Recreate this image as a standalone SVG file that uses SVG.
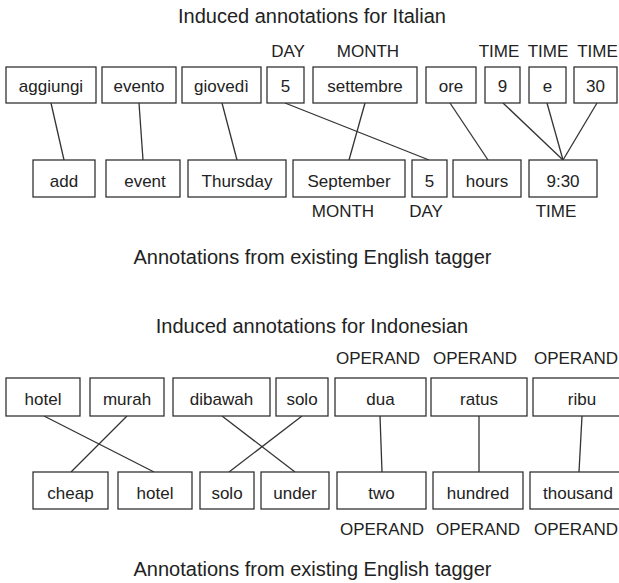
<svg xmlns="http://www.w3.org/2000/svg" width="619" height="583" viewBox="0 0 619 583">
<style>
.b{fill:#fff;stroke:#333;stroke-width:1.3}
.t{font-family:"Liberation Sans",Arial,sans-serif;font-size:17px;fill:#222;text-anchor:middle}
.h{font-family:"Liberation Sans",Arial,sans-serif;font-size:20px;fill:#222;text-anchor:middle}
.c line{stroke:#333;stroke-width:1.3}
</style>
<rect width="619" height="583" fill="#fff"/>
<text class="h" x="312" y="23">Induced annotations for Italian</text>
<text class="h" x="312.5" y="264">Annotations from existing English tagger</text>
<text class="h" x="312" y="333">Induced annotations for Indonesian</text>
<text class="h" x="312.5" y="576">Annotations from existing English tagger</text>
<g class="c" id="connectors">
<line x1="51" y1="103" x2="64" y2="160"/>
<line x1="139" y1="103" x2="143" y2="160"/>
<line x1="222" y1="103" x2="237" y2="160"/>
<line x1="285" y1="103" x2="429" y2="160"/>
<line x1="365" y1="103" x2="349" y2="160"/>
<line x1="450" y1="103" x2="488" y2="160"/>
<line x1="503" y1="103" x2="563" y2="160"/>
<line x1="547" y1="103" x2="563" y2="160"/>
<line x1="597" y1="103" x2="563" y2="160"/>
<line x1="44" y1="416" x2="154" y2="472"/>
<line x1="127" y1="416" x2="71" y2="472"/>
<line x1="222" y1="416" x2="295" y2="472"/>
<line x1="302" y1="416" x2="229" y2="472"/>
<line x1="380" y1="416" x2="382" y2="472"/>
<line x1="479" y1="416" x2="479" y2="472"/>
<line x1="582" y1="416" x2="579" y2="472"/>
</g>
<g id="it-aggiungi"><rect class="b" x="6" y="67" width="90" height="36"/><text class="t" x="51" y="92">aggiungi</text></g>
<g id="it-evento"><rect class="b" x="102" y="67" width="74" height="36"/><text class="t" x="139" y="92">evento</text></g>
<g id="it-giovedi"><rect class="b" x="182" y="67" width="79" height="36"/><text class="t" x="221.5" y="92">giovedì</text></g>
<g id="it-5"><rect class="b" x="267" y="67" width="37" height="36"/><text class="t" x="285.5" y="92">5</text><text class="t" x="288" y="57">DAY</text></g>
<g id="it-settembre"><rect class="b" x="313" y="67" width="104" height="36"/><text class="t" x="365" y="92">settembre</text><text class="t" x="368" y="57">MONTH</text></g>
<g id="it-ore"><rect class="b" x="426" y="67" width="50" height="36"/><text class="t" x="451" y="92">ore</text></g>
<g id="it-9"><rect class="b" x="485" y="67" width="35" height="36"/><text class="t" x="502.5" y="92">9</text><text class="t" x="499" y="57">TIME</text></g>
<g id="it-e"><rect class="b" x="529" y="67" width="37" height="36"/><text class="t" x="547.5" y="92">e</text><text class="t" x="548" y="57">TIME</text></g>
<g id="it-30"><rect class="b" x="574" y="67" width="43" height="36"/><text class="t" x="595.5" y="92">30</text><text class="t" x="597.5" y="57">TIME</text></g>
<g id="en-add"><rect class="b" x="33" y="160" width="62" height="37"/><text class="t" x="64" y="187">add</text></g>
<g id="en-event"><rect class="b" x="106" y="160" width="74" height="37"/><text class="t" x="145" y="187">event</text></g>
<g id="en-thursday"><rect class="b" x="188" y="160" width="98" height="37"/><text class="t" x="237" y="187">Thursday</text></g>
<g id="en-september"><rect class="b" x="293" y="160" width="112" height="37"/><text class="t" x="349" y="187">September</text><text class="t" x="343" y="217">MONTH</text></g>
<g id="en-5"><rect class="b" x="412" y="160" width="35" height="37"/><text class="t" x="429.5" y="187">5</text><text class="t" x="426" y="217">DAY</text></g>
<g id="en-hours"><rect class="b" x="453" y="160" width="68" height="37"/><text class="t" x="487" y="187">hours</text></g>
<g id="en-930"><rect class="b" x="529" y="160" width="68" height="37"/><text class="t" x="563" y="187">9:30</text><text class="t" x="556" y="217">TIME</text></g>
<g id="id-hotel"><rect class="b" x="6" y="378" width="74" height="38"/><text class="t" x="43" y="405">hotel</text></g>
<g id="id-murah"><rect class="b" x="90" y="378" width="74" height="38"/><text class="t" x="127" y="405">murah</text></g>
<g id="id-dibawah"><rect class="b" x="173" y="378" width="97" height="38"/><text class="t" x="221.5" y="405">dibawah</text></g>
<g id="id-solo"><rect class="b" x="276" y="378" width="52" height="38"/><text class="t" x="302" y="405">solo</text></g>
<g id="id-dua"><rect class="b" x="335" y="378" width="91" height="38"/><text class="t" x="380.5" y="405">dua</text><text class="t" x="378" y="364">OPERAND</text></g>
<g id="id-ratus"><rect class="b" x="431" y="378" width="96" height="38"/><text class="t" x="479" y="405">ratus</text><text class="t" x="475" y="364">OPERAND</text></g>
<g id="id-ribu"><rect class="b" x="533" y="378" width="95" height="38"/><text class="t" x="582" y="405">ribu</text><text class="t" x="576" y="364">OPERAND</text></g>
<g id="en-cheap"><rect class="b" x="33" y="472" width="75" height="37"/><text class="t" x="70.5" y="499">cheap</text></g>
<g id="en-hotel"><rect class="b" x="118" y="472" width="74" height="37"/><text class="t" x="155" y="499">hotel</text></g>
<g id="en-solo"><rect class="b" x="200" y="472" width="54" height="37"/><text class="t" x="227" y="499">solo</text></g>
<g id="en-under"><rect class="b" x="261" y="472" width="68" height="37"/><text class="t" x="295" y="499">under</text></g>
<g id="en-two"><rect class="b" x="337" y="472" width="89" height="37"/><text class="t" x="381.5" y="499">two</text><text class="t" x="382" y="535">OPERAND</text></g>
<g id="en-hundred"><rect class="b" x="433" y="472" width="90" height="37"/><text class="t" x="478" y="499">hundred</text><text class="t" x="478" y="535">OPERAND</text></g>
<g id="en-thousand"><rect class="b" x="530" y="472" width="95" height="37"/><text class="t" x="578" y="499">thousand</text><text class="t" x="576" y="535">OPERAND</text></g>
</svg>
